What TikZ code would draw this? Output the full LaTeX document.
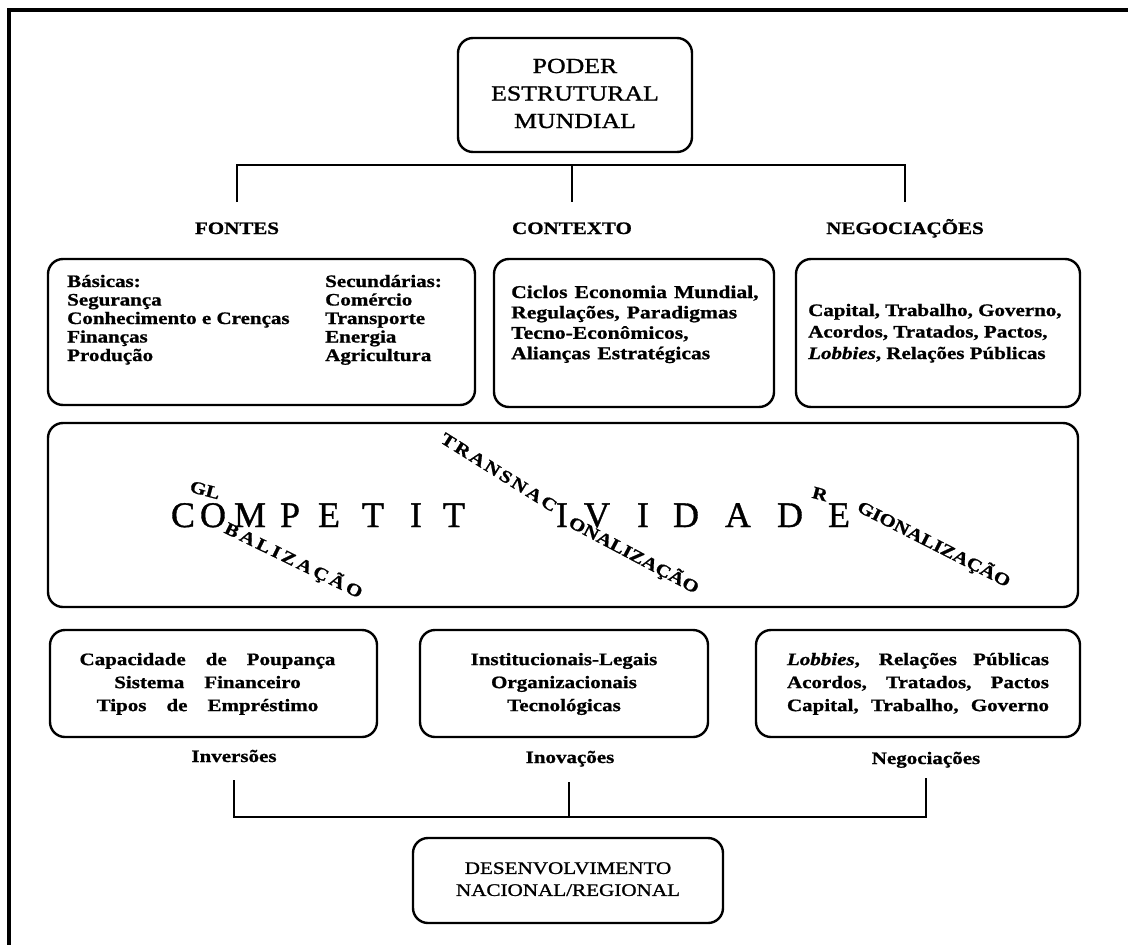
\documentclass[tikz,border=0pt]{standalone}
\usepackage{fontspec}
\setmainfont{Liberation Serif}
\newfontfamily\boldserif[FakeStretch=1.2,FakeBold=1]{Liberation Serif}
\newfontfamily\titleserif[FakeStretch=1.2,FakeBold=1.2]{Liberation Serif}
\newfontfamily\bigserif[FakeBold=1]{Liberation Serif}
\newcommand\blkl[1]{\begin{tabular}[t]{@{}l@{}}#1\end{tabular}}
\newcommand\blkc[1]{\begin{tabular}[t]{@{}c@{}}#1\end{tabular}}
\newcommand\spreadtxt[2]{\def\sprkern{#1}\sprloop#2\relax}
\def\sprloop#1{\ifx#1\relax\else#1\kern\sprkern\expandafter\sprloop\fi}
\begin{document}
\begin{tikzpicture}[x=1pt,y=-1pt,
  bx/.style={draw, line width=2.4pt, rounded corners=15pt, inner sep=0pt},
  conn/.style={line width=2.4pt},
  body/.style={font=\boldserif\bfseries\fontsize{17.5}{18.5}\selectfont, inner sep=0pt},
  lbl/.style={font=\boldserif\bfseries\fontsize{17.5}{18.5}\selectfont, inner sep=0pt, anchor=base},
  big/.style={font=\bigserif\fontsize{36}{36}\selectfont, inner sep=0pt, anchor=base},
  sm/.style={font=\boldserif\bfseries\fontsize{17.5}{17.5}\selectfont, inner sep=0pt}]
\useasboundingbox (0,0) rectangle (1128,945);
% frame
\coordinate (fa) at (9,945);
\coordinate (fb) at (9,10);
\coordinate (fc) at (1128,10);
\draw[line width=4.2pt] (fa) -- (fb) -- (fc);

% top box
\node[bx, minimum width=234pt, minimum height=114pt,
  font=\titleserif\fontsize{21.5}{27.5}\selectfont] (poder) at (575,95)
  {\blkc{PODER\\ESTRUTURAL\\MUNDIAL}};

% top connector
\coordinate (tl) at (237,165);
\coordinate (tm) at (572,165);
\coordinate (tr) at (905,165);
\coordinate (d1) at (237,202);
\coordinate (d2) at (572,202);
\coordinate (d3) at (905,202);
\draw[conn] (d1) -- (tl) -- (tr) -- (d3);
\draw[conn] (tm) -- (d2);

% labels
\node[lbl] (lfontes) at (237,234) {FONTES};
\node[lbl] (lctx) at (572,234) {CONTEXTO};
\node[lbl] (lneg) at (905,234) {NEGOCIAÇÕES};

% row 1 boxes
\node[bx, minimum width=427pt, minimum height=146pt] (bfontes) at (261.5,332) {};
\node[bx, minimum width=280pt, minimum height=148pt] (bctx) at (634,333) {};
\node[bx, minimum width=284pt, minimum height=148pt] (bneg) at (938,333) {};

\node[body, anchor=base west] (tfa) at (67,287)
  {\blkl{Básicas:\\Segurança\\Conhecimento e Crenças\\Finanças\\Produção}};
\node[body, anchor=base west] (tfb) at (325,287)
  {\blkl{Secundárias:\\Comércio\\Transporte\\Energia\\Agricultura}};
\node[body, anchor=base west, font=\boldserif\bfseries\fontsize{18}{20.4}\selectfont] (tctx) at (511,298)
  {\spaceskip=7pt plus 2pt\relax\blkl{Ciclos Economia Mundial,\\Regulações, Paradigmas\\Tecno-Econômicos,\\Alianças Estratégicas}};
\node[body, anchor=base west, font=\boldserif\bfseries\fontsize{17.5}{21.5}\selectfont] (tneg) at (808,316)
  {\blkl{Capital, Trabalho, Governo,\\Acordos, Tratados, Pactos,\\\textit{Lobbies}, Relações Públicas}};

% big box
\node[bx, minimum width=1030pt, minimum height=184pt] (comp) at (563,515) {};
\foreach \px/\ch [count=\i] in {183/C,213/O,250/M,290/P,329/E,373/T,416/I,454/T,562/I,597/V,643/I,686/D,738/A,790/D,839/E}
  \node[big] (L\i) at (\px,527) {\ch};

\node[sm, rotate=-15] (gl) at (205,490) {GL};
\node[sm, rotate=-26] (glob) at (295,561) {\spreadtxt{3pt}{BALIZAÇÃO}};
\node[sm, rotate=-32] (trans) at (500,473) {\spreadtxt{2.4pt}{TRANSNAC}};
\node[sm, rotate=-28] (onal) at (634,555) {ONALIZAÇÃO};
\node[sm, rotate=-15] (rr) at (820,494) {R};
\node[sm, rotate=-27] (reg) at (934,544) {GIONALIZAÇÃO};

% row 3 boxes
\node[bx, minimum width=327pt, minimum height=107pt,
  font=\boldserif\bfseries\fontsize{17.5}{23}\selectfont] (binv) at (213.5,683.5)
  {\spaceskip=20pt plus 4pt\relax\blkc{Capacidade de Poupança\\Sistema Financeiro\\Tipos de Empréstimo}\hspace*{12pt}};
\node[bx, minimum width=288pt, minimum height=107pt,
  font=\boldserif\bfseries\fontsize{17.5}{23}\selectfont] (binov) at (564,683.5)
  {\blkc{Institucionais-Legais\\Organizacionais\\Tecnológicas}};
\node[bx, minimum width=324pt, minimum height=107pt,
  font=\boldserif\bfseries\fontsize{17.5}{23}\selectfont] (bneg2) at (918,683.5)
  {\blkc{\makebox[262pt][s]{\textit{Lobbies}, Relações Públicas}\\\makebox[262pt][s]{Acordos, Tratados, Pactos}\\\makebox[262pt][s]{Capital, Trabalho, Governo}}};

\node[lbl] (linv) at (234,762) {Inversões};
\node[lbl] (linov) at (570,763) {Inovações};
\node[lbl] (lneg2) at (926,764) {Negociações};

% bottom connector
\coordinate (u1) at (234,780);
\coordinate (u2) at (569,782);
\coordinate (u3) at (926,778);
\coordinate (b1) at (234,817);
\coordinate (b2) at (569,817);
\coordinate (b3) at (926,817);
\draw[conn] (u1) -- (b1) -- (b3) -- (u3);
\draw[conn] (u2) -- (b2);

% bottom box
\node[bx, minimum width=310pt, minimum height=85pt,
  font=\titleserif\fontsize{17.6}{22}\selectfont] (desenv) at (568,880.5)
  {\blkc{DESENVOLVIMENTO\\NACIONAL/REGIONAL}};
\end{tikzpicture}
\end{document}
